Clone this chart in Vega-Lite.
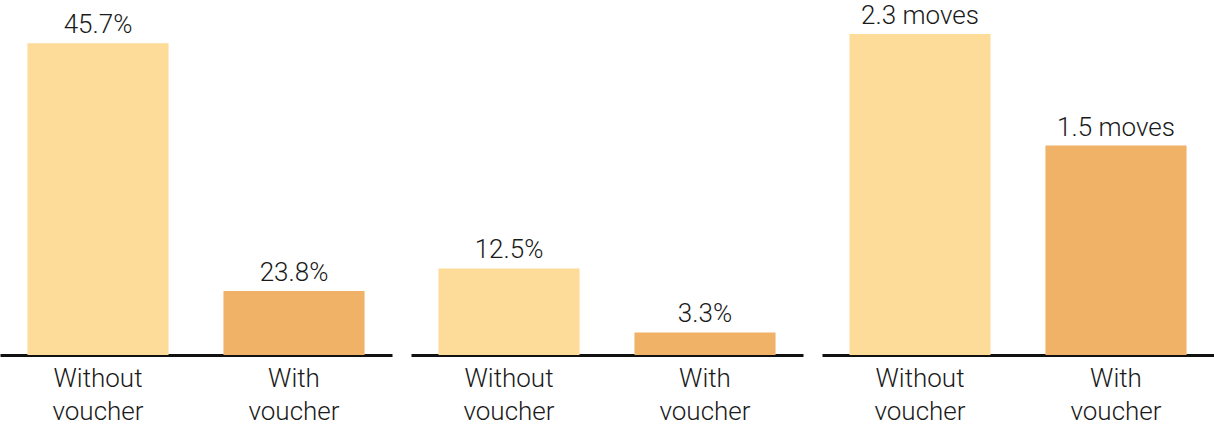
{
  "$schema": "https://vega.github.io/schema/vega-lite/v6.json",
  "padding": 0,
  "background": "white",
  "spacing": 19,
  "config": {"view": {"stroke": null}, "font": "Roboto"},
  "datasets": {
    "p1": [
      {"group": "Without voucher", "value": 45.7, "label": "45.7%"},
      {"group": "With voucher", "value": 9.4, "label": "23.8%"}
    ],
    "p2": [
      {"group": "Without voucher", "value": 12.7, "label": "12.5%"},
      {"group": "With voucher", "value": 3.3, "label": "3.3%"}
    ],
    "p3": [
      {"group": "Without voucher", "value": 2.3, "label": "2.3 moves"},
      {"group": "With voucher", "value": 1.5, "label": "1.5 moves"}
    ]
  },
  "hconcat": [
    {
      "width": 392, "height": 355,
      "data": {"name": "p1"},
      "encoding": {
        "x": {"field": "group", "type": "nominal", "sort": null,
          "scale": {"paddingInner": 0.28, "paddingOuter": 0.14},
          "axis": {"title": null, "domainColor": "#111", "domainWidth": 3, "ticks": false, "labelAngle": 0, "labelFont": "Roboto", "labelFontWeight": 300, "labelFontSize": 26, "labelColor": "#1a1a1a", "labelPadding": 10, "labelLineHeight": 33, "labelExpr": "split(datum.label, ' ')"}},
        "y": {"field": "value", "type": "quantitative", "scale": {"domain": [0, 52.05]}, "axis": null}
      },
      "layer": [
        {"mark": {"type": "bar"}, "encoding": {"color": {"field": "group", "type": "nominal", "scale": {"domain": ["Without voucher", "With voucher"], "range": ["#FDDB98", "#F0B266"]}, "legend": null}}},
        {"mark": {"type": "text", "baseline": "alphabetic", "dy": -10, "fontSize": 26, "fontWeight": 300, "color": "#1a1a1a"}, "encoding": {"text": {"field": "label"}}}
      ]
    },
    {
      "width": 392, "height": 355,
      "data": {"name": "p2"},
      "encoding": {
        "x": {"field": "group", "type": "nominal", "sort": null,
          "scale": {"paddingInner": 0.28, "paddingOuter": 0.14},
          "axis": {"title": null, "domainColor": "#111", "domainWidth": 3, "ticks": false, "labelAngle": 0, "labelFont": "Roboto", "labelFontWeight": 300, "labelFontSize": 26, "labelColor": "#1a1a1a", "labelPadding": 10, "labelLineHeight": 33, "labelExpr": "split(datum.label, ' ')"}},
        "y": {"field": "value", "type": "quantitative", "scale": {"domain": [0, 52.05]}, "axis": null}
      },
      "layer": [
        {"mark": {"type": "bar"}, "encoding": {"color": {"field": "group", "type": "nominal", "scale": {"domain": ["Without voucher", "With voucher"], "range": ["#FDDB98", "#F0B266"]}, "legend": null}}},
        {"mark": {"type": "text", "baseline": "alphabetic", "dy": -10, "fontSize": 26, "fontWeight": 300, "color": "#1a1a1a"}, "encoding": {"text": {"field": "label"}}}
      ]
    },
    {
      "width": 392, "height": 355,
      "data": {"name": "p3"},
      "encoding": {
        "x": {"field": "group", "type": "nominal", "sort": null,
          "scale": {"paddingInner": 0.28, "paddingOuter": 0.14},
          "axis": {"title": null, "domainColor": "#111", "domainWidth": 3, "ticks": false, "labelAngle": 0, "labelFont": "Roboto", "labelFontWeight": 300, "labelFontSize": 26, "labelColor": "#1a1a1a", "labelPadding": 10, "labelLineHeight": 33, "labelExpr": "split(datum.label, ' ')"}},
        "y": {"field": "value", "type": "quantitative", "scale": {"domain": [0, 2.543]}, "axis": null}
      },
      "layer": [
        {"mark": {"type": "bar"}, "encoding": {"color": {"field": "group", "type": "nominal", "scale": {"domain": ["Without voucher", "With voucher"], "range": ["#FDDB98", "#F0B266"]}, "legend": null}}},
        {"mark": {"type": "text", "baseline": "alphabetic", "dy": -10, "fontSize": 26, "fontWeight": 300, "color": "#1a1a1a"}, "encoding": {"text": {"field": "label"}}}
      ]
    }
  ]
}
